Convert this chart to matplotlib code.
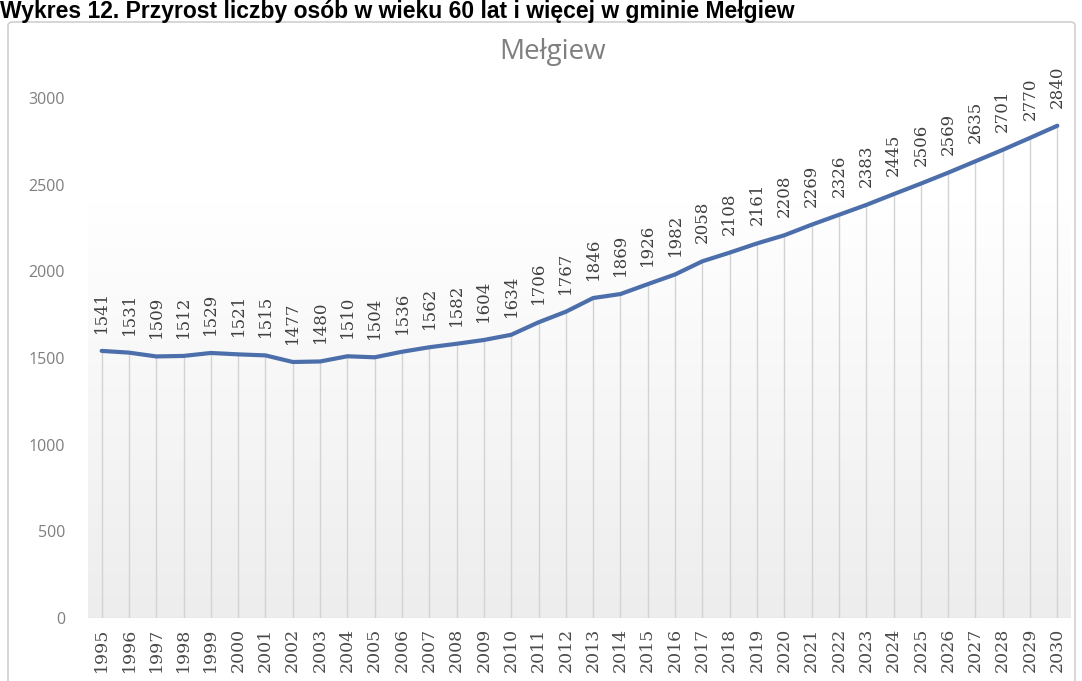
import matplotlib
matplotlib.use("Agg")
import matplotlib.pyplot as plt
import numpy as np
from matplotlib.patches import FancyBboxPatch

years = list(range(1995, 2031))
values = [1541, 1531, 1509, 1512, 1529, 1521, 1515, 1477, 1480, 1510, 1504,
          1536, 1562, 1582, 1604, 1634, 1706, 1767, 1846, 1869, 1926, 1982,
          2058, 2108, 2161, 2208, 2269, 2326, 2383, 2445, 2506, 2569, 2635,
          2701, 2770, 2840]
y_ticks = [0, 500, 1000, 1500, 2000, 2500, 3000]
fig_title = "Wykres 12. Przyrost liczby osób w wieku 60 lat i więcej w gminie Mełgiew"
chart_title = "Mełgiew"

W, H = 1082, 681
fig = plt.figure(figsize=(W / 100, H / 100), dpi=100)
fig.patch.set_facecolor("white")

# chart border
border = FancyBboxPatch((8 / W, -0.05), (1075 - 8) / W, 1 - 22 / H + 0.05,
                        boxstyle="round,pad=0,rounding_size=0.005",
                        transform=fig.transFigure, fill=False,
                        edgecolor="#d0d0d0", linewidth=1.2)
fig.patches.append(border)

fig.text(0.0, 1 - 18 / H, fig_title, fontsize=16.5, fontweight="bold",
         ha="left", va="baseline", color="black", family="Liberation Sans")

ax = fig.add_axes([88 / W, 1 - 618 / H, (1071 - 88) / W, (618 - 98) / H])
x = np.arange(len(years))
ax.set_xlim(-0.5, len(years) - 0.5)
ax.set_ylim(0, 3000)

# gradient background block
grad = np.linspace(1, 0, 256).reshape(-1, 1)
c_top = np.array([1.0, 1.0, 1.0])
c_bot = np.array([0.93, 0.93, 0.93])
img = c_top[None, None, :] * grad[:, :, None] + c_bot[None, None, :] * (1 - grad[:, :, None])
ax.imshow(img, extent=(-0.5, len(years) - 0.5, 0, 2400), aspect="auto",
          origin="upper", zorder=0)

# drop lines
ax.vlines(x, 0, values, colors="#d3d3d3", linewidth=1.0, zorder=1)
ax.plot(x, values, color="#4c6fab", linewidth=3, zorder=3, solid_capstyle="round")

for xi, v in zip(x, values):
    ax.annotate(str(v), (xi, v), xytext=(0, 13), textcoords="offset points",
                rotation=90, ha="center", va="bottom", fontsize=12,
                color="#404040", family="DejaVu Serif", annotation_clip=False)

for s in ax.spines.values():
    s.set_visible(False)
ax.set_yticks(y_ticks)
ax.set_yticklabels([str(t) for t in y_ticks], fontsize=11.5, color="#7f7f7f",
                   family="Open Sans")
ax.tick_params(axis="y", length=0, pad=16.5)
ax.set_xticks(x)
ax.set_xticklabels([str(y) for y in years], rotation=90, fontsize=12.5,
                   color="#4a4a4a", family="DejaVu Serif")
ax.tick_params(axis="x", length=0, pad=7)
ax.axhline(0, color="#d9d9d9", linewidth=1, zorder=2)
ax.set_facecolor("white")

fig.text(553 / W, 1 - 52 / H, chart_title, fontsize=20, color="#7f7f7f",
         ha="center", va="center", family="Open Sans")

fig.savefig("out.png", dpi=100, facecolor="white")
